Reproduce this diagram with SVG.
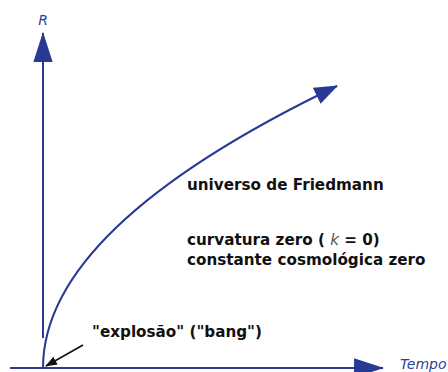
<svg xmlns="http://www.w3.org/2000/svg" width="448" height="372" viewBox="0 0 448 372">
<style>
.ax{stroke:#283a94;stroke-width:2;fill:none}
.lbl{font-family:"DejaVu Sans","Liberation Sans",sans-serif;font-weight:bold;font-size:15.2px;fill:#111}
.axl{font-family:"DejaVu Sans","Liberation Sans",sans-serif;font-style:italic;font-size:14px;fill:#2b3f9a}
</style>
<defs>
<marker id="bh" markerUnits="userSpaceOnUse" markerWidth="30" markerHeight="20" viewBox="0 0 28 18" refX="27" refY="9" orient="auto"><path d="M0,0 L28,9 L0,18 Z" fill="#283a94"/></marker>
<marker id="ch" markerUnits="userSpaceOnUse" markerWidth="24" markerHeight="18" viewBox="0 0 21 16" refX="20" refY="8" orient="auto"><path d="M0,0 L21,8 L0,16 Z" fill="#283a94"/></marker>
<marker id="kh" markerUnits="userSpaceOnUse" markerWidth="12" markerHeight="10" viewBox="0 0 11 8" refX="10" refY="4" orient="auto"><path d="M0,0 L11,4 L0,8 Z" fill="#111"/></marker>
</defs>
<g id="connectors">
<path id="axis-R" class="ax" d="M43,338 L43,33" marker-end="url(#bh)"/>
<path id="axis-t" class="ax" d="M10,368 L383,368" marker-end="url(#bh)"/>
<path id="curve" class="ax" d="M43,368 Q43,227.5 337,86" marker-end="url(#ch)"/>
<path id="bang-arrow" d="M83,345 L46,366" stroke="#111" stroke-width="1.6" fill="none" marker-end="url(#kh)"/>
</g>
<g id="label-R"><text class="axl" x="43" y="25" text-anchor="middle">R</text></g>
<g id="label-tempo"><text class="axl" x="400" y="369">Tempo</text></g>
<g id="label-bang"><text class="lbl" x="92" y="337">"explosão" ("bang")</text></g>
<g id="label-friedmann"><text class="lbl" x="187" y="190">universo de Friedmann</text></g>
<g id="label-params">
<text class="lbl" x="187" y="245">curvatura zero ( <tspan font-weight="normal" font-style="italic" fill="#555">k</tspan> = 0)</text>
<text class="lbl" x="187" y="265">constante cosmológica zero</text>
</g>
</svg>
